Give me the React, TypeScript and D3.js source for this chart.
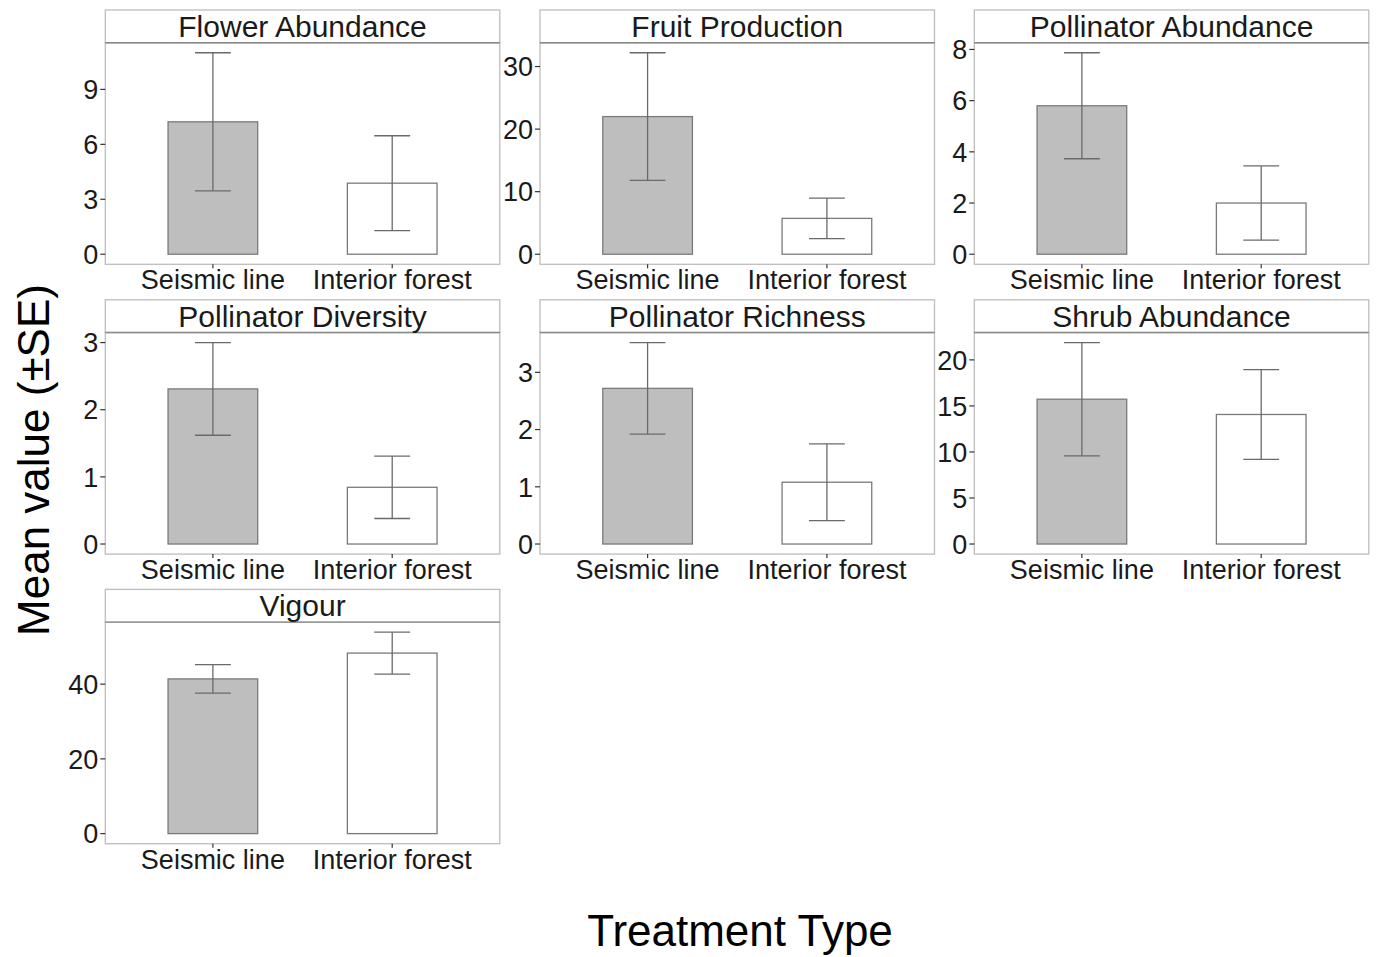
import React from "react";
import * as d3 from "d3";

const panelNames = [
  "Flower Abundance",
  "Fruit Production",
  "Pollinator Abundance",
  "Pollinator Diversity",
  "Pollinator Richness",
  "Shrub Abundance",
  "Vigour",
];
const treatments = ["Seismic line", "Interior forest"];
const seismicMean = [7.23, 22.0, 5.8, 2.31, 2.72, 15.73, 41.4];
const seismicSE = [3.77, 10.2, 2.07, 0.69, 0.8, 6.15, 3.8];
const forestMean = [3.88, 5.73, 2.0, 0.845, 1.08, 14.07, 48.3];
const forestSE = [2.59, 3.23, 1.45, 0.465, 0.67, 4.87, 5.6];
const tickValues = [
  [0, 3, 6, 9],
  [0, 10, 20, 30],
  [0, 2, 4, 6, 8],
  [0, 1, 2, 3],
  [0, 1, 2, 3],
  [0, 5, 10, 15, 20],
  [0, 20, 40],
];
const fills = ["#bebebe", "#ffffff"];

const W = 1379;
const H = 957;
const colLeft = [105.3, 540, 974.3];
const panelW = 394.5;
const rowTop = [10, 299.8, 589.4];
const stripH = 32.7;
const panelTotalH = 254.3;
const FONT = "Liberation Sans, Arial, Helvetica, sans-serif";

function Panel({ idx }: { idx: number }) {
  const col = idx % 3;
  const row = Math.floor(idx / 3);
  const x0 = colLeft[col];
  const x1 = x0 + panelW;
  const top = rowTop[row];
  const plotTop = top + stripH;
  const plotBottom = top + panelTotalH;

  const means = [seismicMean[idx], forestMean[idx]];
  const ses = [seismicSE[idx], forestSE[idx]];
  const maxUp = d3.max(means.map((m, i) => m + ses[i])) as number;
  const lo = Math.min(0, d3.min(means.map((m, i) => m - ses[i])) as number);
  const span = maxUp - Math.min(0, lo);
  const y = d3
    .scaleLinear()
    .domain([0 - span * 0.05, maxUp + span * 0.05])
    .range([plotBottom, plotTop]);
  const x = d3
    .scaleBand()
    .domain(treatments)
    .range([x0, x1])
    .paddingInner(0.5)
    .paddingOuter(0.35);
  // use a point-based scale for centers (ggplot discrete expansion 0.6)
  const xc = d3.scaleLinear().domain([0.4, 2.6]).range([x0, x1]);
  const unit = xc(2) - xc(1);
  const barW = unit * 0.5;
  const capW = unit * 0.2;

  return (
    <g>
      {/* plot panel border */}
      <rect
        x={x0}
        y={plotTop}
        width={panelW}
        height={plotBottom - plotTop}
        fill="white"
        stroke="#bdbdbd"
        strokeWidth={1.3}
      />
      {/* strip */}
      <rect
        x={x0}
        y={top}
        width={panelW}
        height={stripH}
        fill="white"
        stroke="#bdbdbd"
        strokeWidth={1.3}
      />
      <line x1={x0} x2={x1} y1={plotTop} y2={plotTop} stroke="#8a8a8a" strokeWidth={1.4} />
      <text
        x={(x0 + x1) / 2}
        y={top + 27}
        textAnchor="middle"
        fontSize={30}
        fontFamily={FONT}
        fill="#1a1a1a"
      >
        {panelNames[idx]}
      </text>
      {/* bars */}
      {treatments.map((t, i) => {
        const cx = xc(i + 1);
        return (
          <g key={t}>
            <rect
              x={cx - barW / 2}
              y={y(means[i])}
              width={barW}
              height={y(0) - y(means[i])}
              fill={fills[i]}
              stroke="#7a7a7a"
              strokeWidth={1.3}
            />
            <line x1={cx} x2={cx} y1={y(means[i] + ses[i])} y2={y(means[i] - ses[i])} stroke="#6a6a6a" strokeWidth={1.3} />
            <line x1={cx - capW / 2} x2={cx + capW / 2} y1={y(means[i] + ses[i])} y2={y(means[i] + ses[i])} stroke="#6a6a6a" strokeWidth={1.3} />
            <line x1={cx - capW / 2} x2={cx + capW / 2} y1={y(means[i] - ses[i])} y2={y(means[i] - ses[i])} stroke="#6a6a6a" strokeWidth={1.3} />
            {/* x tick */}
            <line x1={cx} x2={cx} y1={plotBottom} y2={plotBottom + 4} stroke="#333" strokeWidth={1.2} />
            <text
              x={cx}
              y={plotBottom + 25}
              textAnchor="middle"
              fontSize={27}
              fontFamily={FONT}
              fill="#1a1a1a"
            >
              {t}
            </text>
          </g>
        );
      })}
      {/* y axis ticks */}
      {tickValues[idx].map((v) => (
        <g key={v}>
          <line x1={x0 - 5} x2={x0} y1={y(v)} y2={y(v)} stroke="#333" strokeWidth={1.2} />
          <text
            x={x0 - 7}
            y={y(v)}
            dy="0.36em"
            textAnchor="end"
            fontSize={27}
            fontFamily={FONT}
            fill="#1a1a1a"
          >
            {v}
          </text>
        </g>
      ))}
    </g>
  );
}

export default function App() {
  return (
    <svg
      width={W}
      height={H}
      style={{ position: "absolute", left: 0, top: 0, background: "white" }}
    >
      <rect x={0} y={0} width={W} height={H} fill="white" />
      {panelNames.map((_, i) => (
        <Panel key={i} idx={i} />
      ))}
      <text
        x={740}
        y={946}
        textAnchor="middle"
        fontSize={44}
        fontFamily={FONT}
        fill="#000"
      >
        Treatment Type
      </text>
      <text
        transform="translate(49,460) rotate(-90)"
        textAnchor="middle"
        fontSize={44}
        fontFamily={FONT}
        fill="#000"
      >
        Mean value (±SE)
      </text>
    </svg>
  );
}
